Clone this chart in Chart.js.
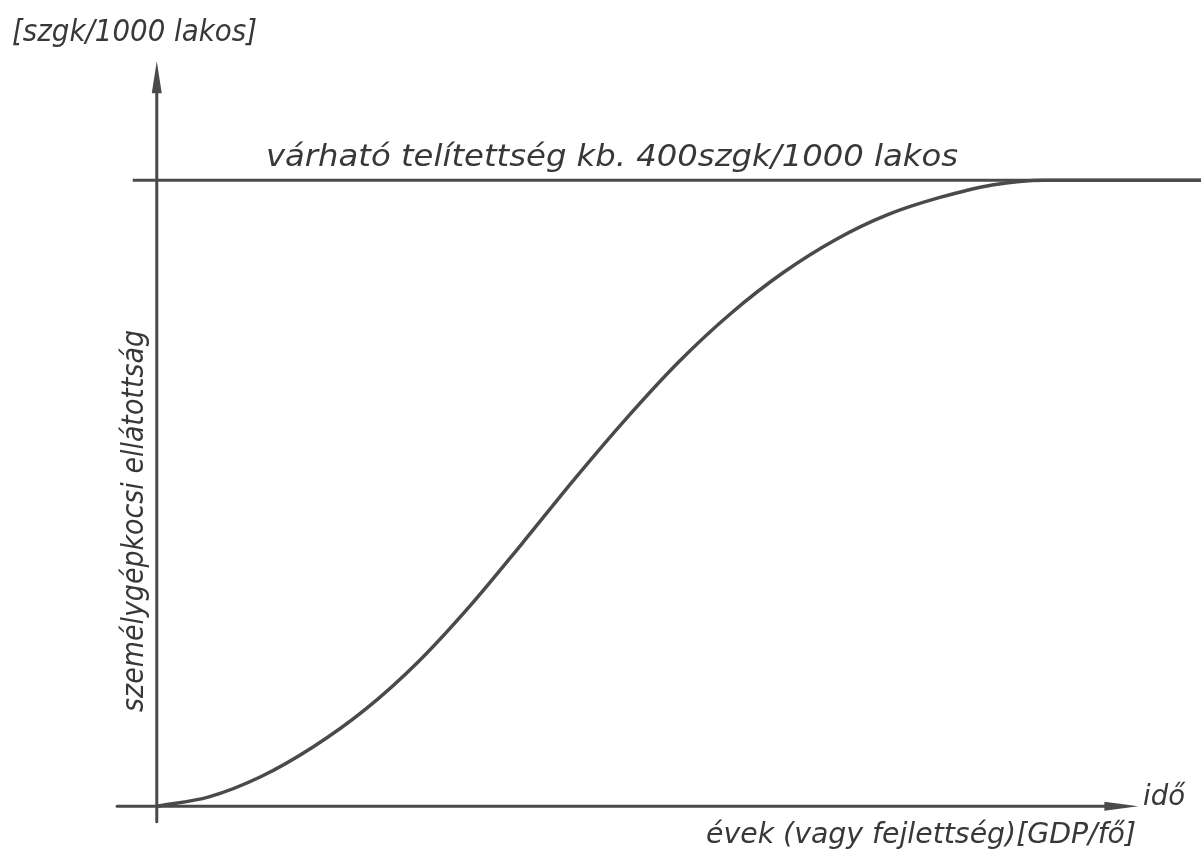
<!DOCTYPE html>
<html>
<head>
<meta charset="utf-8">
<script src="https://cdn.jsdelivr.net/npm/chart.js@4"></script>
<style>
  body { margin: 0; background: #fff; }
  #wrap { width: 1201px; height: 854px; }
</style>
</head>
<body>
<div id="wrap"><canvas id="sCurve" width="1201" height="854"></canvas></div>
<script>
// time (arbitrary units) and car ownership [szgk/1000 lakos]
var idoPontok = [0, 5, 10, 15, 20, 25, 30, 35, 40, 45, 50, 55, 60, 65, 70, 75, 80, 85, 100];
var ellatottsag = [0, 6, 19, 38, 62, 92, 128, 168, 209, 248, 284, 315, 341, 362, 378, 389, 397, 400, 400];

// saturation level and the extent of the drawn lines
var telitettseg = 400;
var telitettsegX = [-2.3, 100];
var xTengely = [-3.8, 94];
var yTengely = [-10, 476];

var inkColor = '#4a4a4a';
var textColor = '#383838';
var fontName = '"DejaVu Sans Condensed", "DejaVu Sans", sans-serif';

var curveData = idoPontok.map(function(x, i) { return { x: x, y: ellatottsag[i] }; });
var satData = telitettsegX.map(function(x) { return { x: x, y: telitettseg }; });

// draw text squeezed to a given width (the scan uses a narrow stencil lettering)
function fitText(ctx, text, x, y, size, width, angle) {
  ctx.save();
  ctx.font = 'italic ' + size + 'px ' + fontName;
  var w = ctx.measureText(text).width;
  ctx.translate(x, y);
  if (angle) ctx.rotate(angle);
  ctx.scale(width / w, 1);
  ctx.fillStyle = textColor;
  ctx.textBaseline = 'alphabetic';
  ctx.fillText(text, 0, 0);
  ctx.restore();
}

var axesPlugin = {
  id: 'axesPlugin',
  afterDatasetsDraw: function(chart) {
    var ctx = chart.ctx;
    var xs = chart.scales.x, ys = chart.scales.y;
    var x0 = xs.getPixelForValue(0), y0 = ys.getPixelForValue(0);

    ctx.save();
    ctx.strokeStyle = inkColor;
    ctx.fillStyle = inkColor;
    ctx.lineWidth = 3;
    ctx.lineCap = 'round';

    // y axis
    var yTop = ys.getPixelForValue(yTengely[1]);
    ctx.beginPath();
    ctx.moveTo(x0, ys.getPixelForValue(yTengely[0]));
    ctx.lineTo(x0, yTop + 20);
    ctx.stroke();
    ctx.beginPath();
    ctx.moveTo(x0, yTop);
    ctx.lineTo(x0 - 5, yTop + 32);
    ctx.lineTo(x0 + 5, yTop + 32);
    ctx.closePath();
    ctx.fill();

    // x axis
    var xEnd = xs.getPixelForValue(xTengely[1]);
    ctx.beginPath();
    ctx.moveTo(xs.getPixelForValue(xTengely[0]), y0);
    ctx.lineTo(xEnd - 20, y0);
    ctx.stroke();
    ctx.beginPath();
    ctx.moveTo(xEnd, y0);
    ctx.lineTo(xEnd - 34, y0 - 4.5);
    ctx.lineTo(xEnd - 34, y0 + 4.5);
    ctx.closePath();
    ctx.fill();
    ctx.restore();

    // labels
    fitText(ctx, '[szgk/1000 lakos]', 12, 41, 31, 245);
    fitText(ctx, 'várható telítettség kb. 400szgk/1000 lakos', 266, 166, 31, 692);
    fitText(ctx, 'személygépkocsi ellátottság', 143, 712, 30, 382, -Math.PI / 2);
    fitText(ctx, 'idő', 1143, 805, 29, 42);
    fitText(ctx, 'évek (vagy fejlettség)[GDP/fő]', 706, 843, 29, 430);
  }
};

new Chart(document.getElementById('sCurve'), {
  type: 'line',
  data: {
    datasets: [{
      label: 'ellátottság',
      data: curveData,
      borderColor: inkColor,
      borderWidth: 3.5,
      pointRadius: 0,
      fill: false,
      cubicInterpolationMode: 'monotone'
    }, {
      label: 'telítettség',
      data: satData,
      borderColor: inkColor,
      borderWidth: 3,
      pointRadius: 0,
      fill: false
    }]
  },
  options: {
    responsive: false,
    animation: false,
    layout: { padding: { left: 115, right: 0, top: 55, bottom: 29 } },
    plugins: { legend: { display: false }, tooltip: { enabled: false } },
    scales: {
      x: { type: 'linear', min: -4, max: 100, display: false },
      y: { type: 'linear', min: -12, max: 480, display: false }
    }
  },
  plugins: [axesPlugin]
});
</script>
</body>
</html>
